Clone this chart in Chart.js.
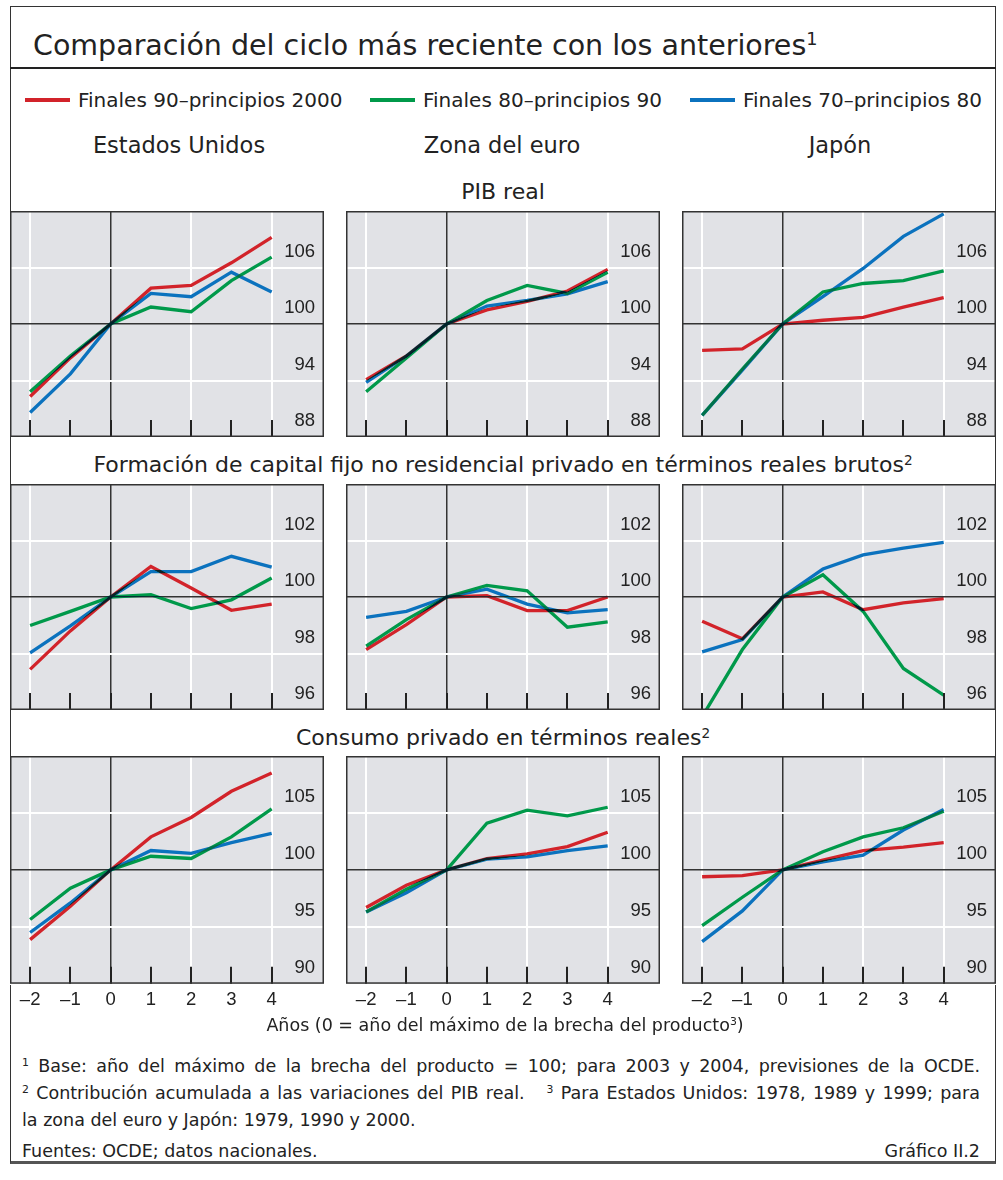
<!DOCTYPE html>
<html>
<head>
<meta charset="utf-8">
<script src="https://cdn.jsdelivr.net/npm/chart.js@4.4.1/dist/chart.umd.min.js"></script>
<style>
  body { margin: 0; background: #fff; font-family: "DejaVu Sans", sans-serif; color: #222; }
  #page { position: relative; width: 1003px; height: 1180px; overflow: hidden; }
  .frame { position: absolute; left: 10px; top: 6px; width: 986px; height: 1158px; border: 1.5px solid #333; border-bottom: 3px solid #555; box-sizing: border-box; }
  .rule { position: absolute; left: 10px; top: 67px; width: 986px; height: 2px; background: #222; }
  .t { position: absolute; white-space: nowrap; line-height: 30px; height: 30px; }
  .c { transform: translateX(-50%); }
  sup { font-size: 0.62em; vertical-align: 0.55em; line-height: 0; }
  .swatch { position: absolute; height: 4px; width: 45px; }
  .note { position: absolute; left: 22px; width: 958px; font-size: 17.5px; line-height: 27px; white-space: nowrap; }
  .just { text-align: justify; text-align-last: justify; }
  .panel { position: absolute; }
</style>
</head>
<body>
<div id="page">
  <div class="frame"></div>
  <div class="rule"></div>
  <div class="t" style="left:33px; top:31px; font-size:28.5px;">Comparación del ciclo más reciente con los anteriores<sup>1</sup></div>
  <div id="legend"></div>
  <div id="heads"></div>
  <div id="charts"></div>
  <div class="t c" style="left:505px; top:1010px; font-size:17.5px;">Años (0 = año del máximo de la brecha del producto<sup>3</sup>)</div>
  <div class="note just" style="top:1053px;"><sup>1</sup> Base: año del máximo de la brecha del producto = 100; para 2003 y 2004, previsiones de la OCDE.</div>
  <div class="note just" style="top:1080px;"><sup>2</sup> Contribución acumulada a las variaciones del PIB real. &nbsp; <sup>3</sup> Para Estados Unidos: 1978, 1989 y 1999; para</div>
  <div class="note" style="top:1107px;">la zona del euro y Japón: 1979, 1990 y 2000.</div>
  <div class="note" style="top:1138px;">Fuentes: OCDE; datos nacionales.<span style="position:absolute; right:0;">Gráfico II.2</span></div>
</div>
<script>
// años respecto al máximo de la brecha del producto
const years = [-2, -1, 0, 1, 2, 3, 4];
const seriesNames = ['Finales 90\u2013principios 2000', 'Finales 80\u2013principios 90', 'Finales 70\u2013principios 80'];
const seriesColors = ['#d2232a', '#00994a', '#0b72be'];
const countries = ['Estados Unidos', 'Zona del euro', 'Japón'];
const sections = ['PIB real', 'Formación de capital fijo no residencial privado en términos reales brutos<sup>2</sup>', 'Consumo privado en términos reales<sup>2</sup>'];

// ejes por fila
const yMin = [88, 96, 90];
const yMax = [112, 104, 110];
const yGrid = [[88, 94, 100, 106, 112], [96, 98, 100, 102, 104], [90, 95, 100, 105, 110]];
const yLabels = [[106, 100, 94, 88], [102, 100, 98, 96], [105, 100, 95, 90]];

// PIB real
const pibEEUU90 = [92.3, 96.4, 100, 103.8, 104.1, 106.5, 109.2];
const pibEEUU80 = [92.8, 96.6, 100, 101.8, 101.3, 104.6, 107.1];
const pibEEUU70 = [90.6, 94.7, 100, 103.25, 102.9, 105.5, 103.4];
const pibEuro90 = [94.1, 96.6, 100, 101.5, 102.4, 103.5, 105.8];
const pibEuro80 = [92.8, 96.4, 100, 102.5, 104.1, 103.25, 105.5];
const pibEuro70 = [93.8, 96.6, 100, 101.9, 102.5, 103.2, 104.5];
const pibJapon90 = [97.2, 97.35, 100, 100.4, 100.7, 101.8, 102.8];
const pibJapon80 = [90.3, 95.2, 100, 103.4, 104.3, 104.6, 105.65];
const pibJapon70 = [90.3, 95.1, 100, 102.9, 105.9, 109.3, 111.7];

// formación de capital fijo
const invEEUU90 = [97.44, 98.8, 100, 101.08, 100.32, 99.53, 99.75];
const invEEUU80 = [98.99, 99.49, 100, 100.08, 99.59, 99.9, 100.67];
const invEEUU70 = [98.02, 98.98, 100, 100.9, 100.9, 101.44, 101.06];
const invEuro90 = [98.14, 99.02, 100, 100.05, 99.52, 99.52, 100];
const invEuro80 = [98.26, 99.2, 100, 100.41, 100.22, 98.93, 99.12];
const invEuro70 = [99.28, 99.49, 100, 100.28, 99.75, 99.44, 99.55];
const invJapon90 = [99.14, 98.52, 100, 100.18, 99.55, 99.79, 99.94];
const invJapon80 = [95.76, 98.14, 100, 100.79, 99.49, 97.47, 96.53];
const invJapon70 = [98.06, 98.49, 100, 100.99, 101.49, 101.73, 101.93];

// consumo privado
const conEEUU90 = [93.88, 96.8, 100, 102.9, 104.6, 106.9, 108.5];
const conEEUU80 = [95.65, 98.4, 100, 101.2, 101.0, 102.9, 105.35];
const conEEUU70 = [94.5, 97.1, 100, 101.7, 101.45, 102.4, 103.2];
const conEuro90 = [96.7, 98.65, 100, 101.0, 101.4, 102.05, 103.3];
const conEuro80 = [96.3, 98.3, 100, 104.1, 105.25, 104.75, 105.5];
const conEuro70 = [96.3, 98.0, 100, 100.94, 101.15, 101.7, 102.1];
const conJapon90 = [99.4, 99.5, 100, 100.85, 101.7, 102.0, 102.4];
const conJapon80 = [95.1, 97.6, 100, 101.6, 102.9, 103.7, 105.15];
const conJapon70 = [93.7, 96.4, 100, 100.7, 101.3, 103.5, 105.3];

const grid = [
  [[pibEEUU90, pibEEUU80, pibEEUU70], [pibEuro90, pibEuro80, pibEuro70], [pibJapon90, pibJapon80, pibJapon70]],
  [[invEEUU90, invEEUU80, invEEUU70], [invEuro90, invEuro80, invEuro70], [invJapon90, invJapon80, invJapon70]],
  [[conEEUU90, conEEUU80, conEEUU70], [conEuro90, conEuro80, conEuro70], [conJapon90, conJapon80, conJapon70]]
];

const colLeft = [10, 346, 682];
const rowTop = [211, 484, 756];
const panelW = 314, panelH = 226;

// leyenda y cabeceras
var legend = document.getElementById('legend');
var legX = [25, 370, 690];
seriesNames.forEach(function (name, i) {
  legend.innerHTML += '<div class="swatch" style="left:' + legX[i] + 'px; top:98px; background:' + seriesColors[i] + ';"></div>' +
    '<div class="t" style="left:' + (legX[i] + 53) + 'px; top:85px; font-size:20px;">' + name + '</div>';
});
var heads = document.getElementById('heads');
var headX = [179, 502, 840];
countries.forEach(function (c, i) {
  heads.innerHTML += '<div class="t c" style="left:' + headX[i] + 'px; top:130px; font-size:22.5px;">' + c + '</div>';
});
var secY = [192, 465, 738];
sections.forEach(function (s, i) {
  heads.innerHTML += '<div class="t c" style="left:503px; top:' + (secY[i] - 15) + 'px; font-size:22px;">' + s + '</div>';
});

var panelPlugin = {
  id: 'panel',
  beforeDraw: function (chart) {
    var a = chart.chartArea, ctx = chart.ctx;
    ctx.save();
    ctx.fillStyle = '#e1e2e6';
    ctx.fillRect(a.left, a.top, a.right - a.left, a.bottom - a.top);
    ctx.restore();
  },
  beforeDatasetsDraw: function (chart) {
    chart.ctx.save();
    chart.ctx.globalCompositeOperation = 'darken';
  },
  afterDatasetsDraw: function (chart) {
    chart.ctx.restore();
  },
  afterDraw: function (chart) {
    var a = chart.chartArea, ctx = chart.ctx, row = chart.options.plugins.panel.row;
    ctx.save();
    // marcas de los años
    ctx.strokeStyle = '#222';
    ctx.lineWidth = 2;
    years.forEach(function (v) {
      var x = Math.round(chart.scales.x.getPixelForValue(v));
      ctx.beginPath();
      ctx.moveTo(x, a.bottom);
      ctx.lineTo(x, a.bottom - 17);
      ctx.stroke();
    });
    // etiquetas del eje vertical dentro del panel
    ctx.fillStyle = '#222';
    ctx.font = '18.5px "Liberation Sans", Arial, sans-serif';
    ctx.textAlign = 'right';
    ctx.textBaseline = 'middle';
    yLabels[row].forEach(function (v) {
      ctx.fillText(String(v), a.right - 9, chart.scales.y.getPixelForValue(v) - 16);
    });
    ctx.strokeStyle = '#333';
    ctx.lineWidth = 1.5;
    ctx.strokeRect(a.left + 0.75, a.top + 0.75, a.right - a.left - 1.5, a.bottom - a.top - 1.5);
    ctx.restore();
  }
};

var charts = document.getElementById('charts');
grid.forEach(function (rowData, r) {
  rowData.forEach(function (panelData, c) {
    var h = r === 2 ? panelH + 34 : panelH;
    var box = document.createElement('div');
    box.className = 'panel';
    box.style.left = colLeft[c] + 'px';
    box.style.top = rowTop[r] + 'px';
    box.innerHTML = '<canvas width="' + panelW + '" height="' + h + '"></canvas>';
    charts.appendChild(box);
    new Chart(box.querySelector('canvas'), {
      type: 'line',
      data: {
        datasets: panelData.map(function (vals, s) {
          return {
            label: seriesNames[s],
            data: years.map(function (x, i) { return { x: x, y: vals[i] }; }),
            borderColor: seriesColors[s],
            borderWidth: 3.3,
            pointRadius: 0,
            tension: 0,
            fill: false
          };
        }).reverse()
      },
      options: {
        responsive: false,
        animation: false,
        layout: { padding: 0 },
        plugins: {
          legend: { display: false },
          tooltip: { enabled: false },
          panel: { row: r }
        },
        scales: {
          x: {
            type: 'linear',
            min: -2.5,
            max: 5.3,
            afterBuildTicks: function (axis) { axis.ticks = years.map(function (v) { return { value: v }; }); },
            border: { display: false },
            grid: {
              drawTicks: false,
              color: function (ctx) {
                var v = ctx.tick.value;
                if (v === 0) return '#333';
                return v % 2 === 0 ? '#ffffff' : 'rgba(0,0,0,0)';
              },
              lineWidth: function (ctx) { return ctx.tick.value === 0 ? 1.5 : 2; }
            },
            ticks: {
              display: r === 2,
              autoSkip: false,
              maxRotation: 0,
              padding: 5,
              color: '#222',
              font: { family: '"Liberation Sans", Arial, sans-serif', size: 18.5 },
              callback: function (v) { return v < 0 ? '\u2013' + Math.abs(v) : String(v); }
            }
          },
          y: {
            min: yMin[r],
            max: yMax[r],
            afterBuildTicks: function (axis) { axis.ticks = yGrid[r].map(function (v) { return { value: v }; }); },
            border: { display: false },
            grid: {
              drawTicks: false,
              color: function (ctx) { return ctx.tick.value === 100 ? '#333' : '#ffffff'; },
              lineWidth: function (ctx) { return ctx.tick.value === 100 ? 1.5 : 2; }
            },
            ticks: { display: false }
          }
        }
      },
      plugins: [panelPlugin]
    });
  });
});
</script>
</body>
</html>
